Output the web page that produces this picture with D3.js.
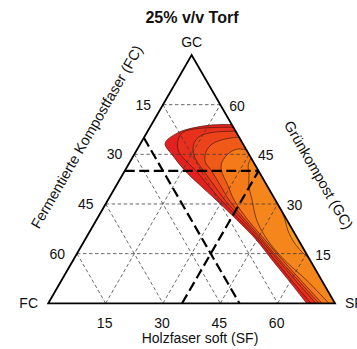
<!DOCTYPE html>
<html>
<head>
<meta charset="utf-8">
<script src="https://cdn.jsdelivr.net/npm/d3@7/dist/d3.min.js"></script>
<style>
body { margin: 0; background: #fff; }
text { font-family: "Liberation Sans", Arial, sans-serif; fill: #111; }
</style>
</head>
<body>
<div id="plot"></div>
<script>
var total = 75;               // 25% peat, the rest is FC + GC + SF
var ticks = [15, 30, 45, 60];
var title = "25% v/v Torf";

// contour lines as [GC, SF] pairs, FC = 75 - GC - SF
var contour0 = [[54.0,21.0],[53.9,16.2],[53.0,11.4],[51.4,8.0],[48.3,6.4],[44.5,10.4],[40.3,15.4],[35.7,21.8],[31.2,28.3],[25.2,36.7],[19.1,44.9],[13.1,52.0],[7.1,59.2],[0,67.6]];
var contour1 = [[53.2,21.8],[53.1,17.1],[52.7,12.1],[51.7,9.4],[49.3,9.3],[46.3,10.8],[43.3,14.1],[40.3,18.3],[35.7,23.9],[31.2,29.6],[25.2,37.5],[19.1,45.5],[13.1,52.7],[7.1,60.0],[0,68.7]];
var contour2 = [[52.0,23.0],[51.7,17.7],[50.8,14.8],[49.0,13.9],[46.3,14.7],[43.3,17.0],[40.3,20.3],[35.7,25.5],[31.2,30.6],[25.2,38.3],[19.1,46.1],[13.1,53.5],[7.1,61.0],[0,70.0]];
var contour3 = [[50.2,24.8],[49.6,21.4],[48.1,18.8],[45.7,18.4],[42.7,19.7],[40.3,22.4],[35.7,27.1],[31.2,31.7],[25.2,38.9],[19.1,46.6],[13.1,54.0],[7.1,61.7],[0,70.8]];
var contour4 = [[46.3,28.7],[46.6,26.3],[45.4,24.6],[42.7,24.1],[40.3,25.1],[35.7,29.1],[31.2,33.0],[25.2,39.6],[19.1,47.2],[13.1,54.7],[7.1,62.4],[0,71.6]];
var contour5 = [[43.9,31.1],[41.8,31.4],[38.8,33.1],[35.7,34.6],[31.2,37.7],[25.2,41.9],[19.1,47.8],[13.1,55.2],[7.1,63.9],[0,73.4]];
var contour6 = [[27.9,47.1],[25.2,49.3],[22.1,51.6],[18.5,55.0],[15.5,58.6],[13.7,61.3]];
var contours = [contour0, contour1, contour2, contour3, contour4, contour5, contour6];
var bandColors = ["#e3201f", "#e8301c", "#ec431a", "#f05a18", "#f47a1a", "#f5861b", "#f7991d"];

// thick dashed reference lines
var refAxes = ["gc", "fc", "sf"];
var refValues = [40, 25, 35];

var width = 357, height = 349;
var svg = d3.select("#plot").append("svg").attr("width", width).attr("height", height);

var xscale = d3.scaleLinear().domain([0, total]).range([48.3, 335]);
var yscale = d3.scaleLinear().domain([0, total]).range([303.3, 55]);

// gc, sf -> screen
function pt(gc, sf) { return [xscale(sf + gc / 2), yscale(gc)]; }

function axisLine(axis, v) {
  if (axis == "gc") return [pt(v, 0), pt(v, total - v)];
  if (axis == "fc") return [pt(total - v, 0), pt(0, total - v)];
  return [pt(0, v), pt(total - v, v)];
}

var g = svg.append("g");

// filled contour bands
var smooth = d3.line().curve(d3.curveCatmullRom.alpha(0.5));
var cornerSF = pt(0, total);
contours.forEach(function(c, i) {
  var p = c.map(function(d) { return pt(d[0], d[1]); });
  var d = smooth(p);
  if (c[c.length - 1][0] == 0) d += "L" + cornerSF[0] + "," + cornerSF[1];
  g.append("path").attr("d", d + "Z").attr("fill", bandColors[i]).attr("stroke", "none");
});
contours.forEach(function(c) {
  var p = c.map(function(d) { return pt(d[0], d[1]); });
  g.append("path").attr("d", smooth(p)).attr("fill", "none")
    .attr("stroke", "#4a1a0a").attr("stroke-width", 0.7);
});

// grid
["gc", "fc", "sf"].forEach(function(axis) {
  ticks.forEach(function(v) {
    var l = axisLine(axis, v);
    g.append("line").attr("x1", l[0][0]).attr("y1", l[0][1]).attr("x2", l[1][0]).attr("y2", l[1][1])
      .attr("stroke", "#3a3a3a").attr("stroke-width", 0.75).attr("stroke-dasharray", "3.5,2.5");
  });
});

// reference lines
refAxes.forEach(function(axis, i) {
  var l = axisLine(axis, refValues[i]);
  g.append("line").attr("x1", l[0][0]).attr("y1", l[0][1]).attr("x2", l[1][0]).attr("y2", l[1][1])
    .attr("stroke", "#000").attr("stroke-width", 2.2).attr("stroke-dasharray", "10,4.5");
});

// triangle: FC, GC, SF corners
var pFC = pt(0, 0), pGC = pt(total, 0), pSF = pt(0, total);
g.append("path").attr("d", "M" + [pFC, pGC, pSF].join("L") + "Z")
  .attr("fill", "none").attr("stroke", "#000").attr("stroke-width", 1.8).attr("stroke-linejoin", "miter");

// tick labels
ticks.forEach(function(v) {
  var a = pt(total - v, 0);
  g.append("text").attr("x", a[0] - 12).attr("y", a[1]).attr("dy", "0.35em")
    .attr("text-anchor", "end").attr("font-size", "14px").text(v);
  var b = pt(v, total - v);
  g.append("text").attr("x", b[0] + 9).attr("y", b[1] + 1).attr("dy", "0.35em")
    .attr("text-anchor", "start").attr("font-size", "14px").text(v);
  var c = pt(0, v);
  g.append("text").attr("x", c[0] - 1).attr("y", 328)
    .attr("text-anchor", "middle").attr("font-size", "14px").text(v);
});

// corner labels
g.append("text").attr("x", pGC[0]).attr("y", 47).attr("text-anchor", "middle").attr("font-size", "14px").text("GC");
g.append("text").attr("x", 38).attr("y", 308).attr("text-anchor", "end").attr("font-size", "14px").text("FC");
g.append("text").attr("x", 345).attr("y", 308).attr("text-anchor", "start").attr("font-size", "14px").text("SF");

// axis titles
g.append("text").attr("x", 200).attr("y", 343).attr("text-anchor", "middle").attr("font-size", "14px").text("Holzfaser soft (SF)");

var midL = [(pFC[0] + pGC[0]) / 2, (pFC[1] + pGC[1]) / 2];
var lx = midL[0] - 0.866 * 50 + 0.5 * 20, ly = midL[1] - 0.5 * 50 - 0.866 * 20;
g.append("text").attr("transform", "translate(" + lx + "," + ly + ") rotate(-60)")
  .attr("dy", "0.35em").attr("text-anchor", "middle").attr("font-size", "14.5px").text("Fermentierte Kompostfaser (FC)");

var midR = [(pGC[0] + pSF[0]) / 2, (pGC[1] + pSF[1]) / 2];
var rx = midR[0] + 0.866 * 50 + 0.5 * 24, ry = midR[1] - 0.5 * 50 + 0.866 * 24;
g.append("text").attr("transform", "translate(" + rx + "," + ry + ") rotate(60)")
  .attr("dy", "0.35em").attr("text-anchor", "middle").attr("font-size", "14.5px").text("Grünkompost (GC)");

svg.append("text").attr("x", 192).attr("y", 23).attr("text-anchor", "middle")
  .attr("font-size", "16px").attr("font-weight", "bold").text(title);
</script>
</body>
</html>
